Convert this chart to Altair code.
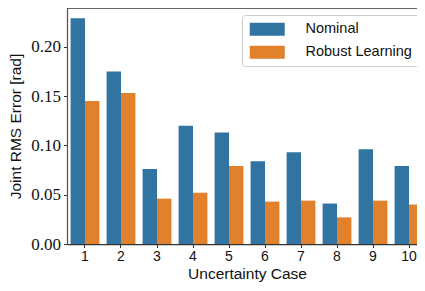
import altair as alt
import pandas as pd

cases = ["1", "2", "3", "4", "5", "6", "7", "8", "9", "10"]
series = ["Nominal", "Robust Learning"]
nominal = [0.229, 0.175, 0.076, 0.120, 0.113, 0.084, 0.093, 0.041, 0.096, 0.079]
robust = [0.145, 0.153, 0.046, 0.052, 0.079, 0.043, 0.044, 0.027, 0.044, 0.040]
y_ticks = [0.0, 0.05, 0.10, 0.15, 0.20]
colors = ["#3274a1", "#e1812c"]

rows = []
for c, n, r in zip(cases, nominal, robust):
    rows.append({"case": c, "series": series[0], "value": n})
    rows.append({"case": c, "series": series[1], "value": r})
df = pd.DataFrame(rows)

SANS = "Liberation Sans"
SERIF = "Liberation Serif"

bars = alt.Chart(df).mark_bar(strokeWidth=0).encode(
    x=alt.X(
        "case:N",
        sort=cases,
        scale=alt.Scale(range=[0, 360], paddingInner=0.2, paddingOuter=0.1),
        axis=alt.Axis(
            title="Uncertainty Case",
            labelAngle=0,
            labelFont=SANS,
            labelFontSize=14,
            labelColor="#111",
            labelPadding=2,
            titleFont=SANS,
            titleFontSize=15.5,
            titleFontWeight="normal",
            titleColor="#111",
            titlePadding=3,
            titleX=180,
            domainColor="#333",
            domainWidth=1.25,
            tickColor="#333",
            tickSize=3.5,
            grid=False,
        ),
    ),
    xOffset=alt.XOffset("series:N", sort=series),
    y=alt.Y(
        "value:Q",
        scale=alt.Scale(domain=[0, 0.2393], nice=False, zero=True),
        axis=alt.Axis(
            title="Joint RMS Error [rad]",
            values=y_ticks,
            format=".2f",
            labelFont=SERIF,
            labelFontSize=17,
            labelColor="#111",
            labelPadding=3,
            titleFont=SANS,
            titleFontSize=15.5,
            titleFontWeight="normal",
            titleColor="#111",
            titlePadding=7,
            domainColor="#555",
            domainWidth=1.25,
            tickColor="#333",
            tickSize=3.5,
            grid=False,
        ),
    ),
    color=alt.Color(
        "series:N",
        sort=series,
        scale=alt.Scale(domain=series, range=colors),
        legend=alt.Legend(
            title=None,
            orient="none",
            legendX=175,
            legendY=7,
            fillColor="white",
            strokeColor="#cccccc",
            cornerRadius=3,
            padding=7,
            labelFont=SANS,
            labelFontSize=14.5,
            labelColor="#111",
            labelOffset=42,
            symbolType="M-1,-1L4.385,-1L4.385,1L-1,1Z",
            symbolSize=169,
            symbolStrokeWidth=0,
            symbolOpacity=1,
            rowPadding=8,
        ),
    ),
)

spine = alt.Chart(pd.DataFrame({"k": [0]})).mark_rule(color="#333", strokeWidth=1.25).encode(
    x=alt.value(0), x2=alt.value(360), y=alt.value(0)
)

chart = alt.layer(bars, spine).properties(
    width=350,
    height=236,
    padding={"left": 59, "top": 0, "right": 0, "bottom": 47},
    autosize=alt.AutoSizeParams(type="none"),
).configure_view(stroke=None)

chart.save("out.html", embed_options={"renderer": "svg", "actions": False})
